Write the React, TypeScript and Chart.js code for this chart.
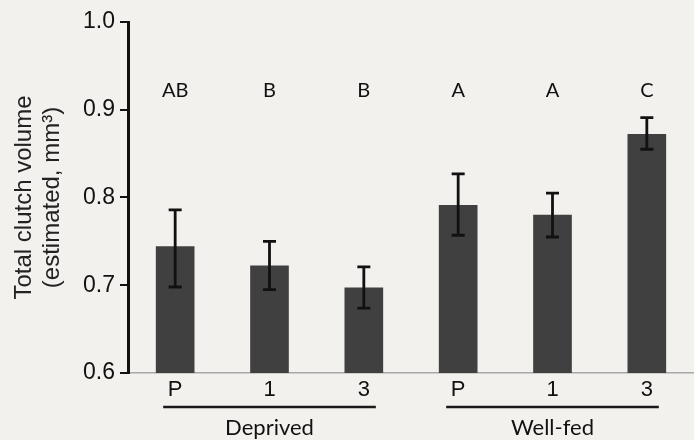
import React, { useEffect, useRef } from "react";
import { Chart, registerables } from "chart.js";

Chart.register(...registerables);

const categories = ["P", "1", "3", "P", "1", "3"];
const groups = ["Deprived", "Well-fed"];
const groupMembers = [[0, 2], [3, 5]];
const means = [0.744, 0.722, 0.697, 0.791, 0.78, 0.872];
const errLow = [0.698, 0.695, 0.674, 0.757, 0.755, 0.855];
const errHigh = [0.786, 0.75, 0.721, 0.827, 0.805, 0.891];
const letters = ["AB", "B", "B", "A", "A", "C"];
const LETTER_LEVEL = 0.922;
const Y_MIN = 0.6;
const Y_MAX = 1.0;
const Y_STEP = 0.1;

const BG = "#f3f1ee";
const BAR = "#404040";

const annotPlugin = {
  id: "annot",
  beforeDraw(chart: any) {
    const { ctx, width, height } = chart;
    ctx.save();
    ctx.fillStyle = BG;
    ctx.fillRect(0, 0, width, height);
    ctx.restore();
  },
  afterDatasetsDraw(chart: any) {
    const { ctx } = chart;
    const x = chart.scales.x;
    const y = chart.scales.y;
    ctx.save();
    // error bars
    ctx.strokeStyle = "#111";
    ctx.lineWidth = 2.8;
    for (let i = 0; i < means.length; i++) {
      const px = x.getPixelForValue(i);
      const yl = y.getPixelForValue(errLow[i]);
      const yh = y.getPixelForValue(errHigh[i]);
      ctx.beginPath();
      ctx.moveTo(px, yl);
      ctx.lineTo(px, yh);
      ctx.moveTo(px - 6.5, yl);
      ctx.lineTo(px + 6.5, yl);
      ctx.moveTo(px - 6.5, yh);
      ctx.lineTo(px + 6.5, yh);
      ctx.stroke();
    }
    // letters
    ctx.fillStyle = "#111";
    ctx.font = "20px Lato";
    ctx.textAlign = "center";
    ctx.textBaseline = "middle";
    for (let i = 0; i < letters.length; i++) {
      ctx.fillText(letters[i], x.getPixelForValue(i), y.getPixelForValue(LETTER_LEVEL));
    }
    // group lines and labels
    const lineY = chart.chartArea.bottom + 34;
    for (let g = 0; g < groups.length; g++) {
      const [a, b] = groupMembers[g];
      const x0 = x.getPixelForValue(a) - 12;
      const x1 = x.getPixelForValue(b) + 12;
      ctx.strokeStyle = "#1a1a1a";
      ctx.lineWidth = 2.5;
      ctx.beginPath();
      ctx.moveTo(x0, lineY);
      ctx.lineTo(x1, lineY);
      ctx.stroke();
      ctx.font = "22px Lato";
      ctx.fillStyle = "#111";
      ctx.fillText(groups[g], (x0 + x1) / 2, lineY + 21);
    }
    ctx.restore();
  },
};

export default function App() {
  const ref = useRef<HTMLCanvasElement | null>(null);
  useEffect(() => {
    if (!ref.current) return;
    const chart = new Chart(ref.current, {
      type: "bar",
      data: {
        labels: categories,
        datasets: [
          {
            data: means,
            backgroundColor: BAR,
            borderWidth: 0,
            barThickness: 38,
          },
        ],
      },
      options: {
        animation: false,
        responsive: false,
        maintainAspectRatio: false,
        devicePixelRatio: 1,
        layout: { padding: { top: 22, right: 0, bottom: 0, left: 0 } },
        plugins: { legend: { display: false }, tooltip: { enabled: false } },
        scales: {
          x: {
            afterFit(scale: any) {
              scale.height = 67;
            },
            grid: { display: false, drawTicks: false },
            border: { display: true, color: "#a8a8a8", width: 1.5, dash: [3, 4] },
            ticks: {
              color: "#111",
              font: { family: "Liberation Sans", size: 22 },
              padding: 4,
            },
          },
          y: {
            min: Y_MIN,
            max: Y_MAX,
            afterFit(scale: any) {
              scale.width = 128;
            },
            grid: {
              display: true,
              drawOnChartArea: false,
              drawTicks: true,
              tickLength: 8,
              color: "#111",
              lineWidth: 2,
            },
            border: { display: true, color: "#111", width: 3 },
            ticks: {
              stepSize: Y_STEP,
              color: "#111",
              padding: 5,
              font: { family: "Liberation Sans", size: 23 },
              callback: (v: any) => Number(v).toFixed(1),
            },
            title: {
              display: true,
              text: ["Total clutch volume", "(estimated, mm\u00b3)"],
              color: "#222",
              font: { family: "Liberation Sans", size: 24, lineHeight: 1.15 },
              padding: { top: 11, bottom: 0 },
            },
          },
        },
      },
      plugins: [annotPlugin],
    });
    return () => chart.destroy();
  }, []);
  return (
    <div style={{ position: "absolute", left: 0, top: 0, width: 694, height: 440 }}>
      <canvas ref={ref} width={694} height={440} style={{ width: 694, height: 440, display: "block" }} />
    </div>
  );
}
